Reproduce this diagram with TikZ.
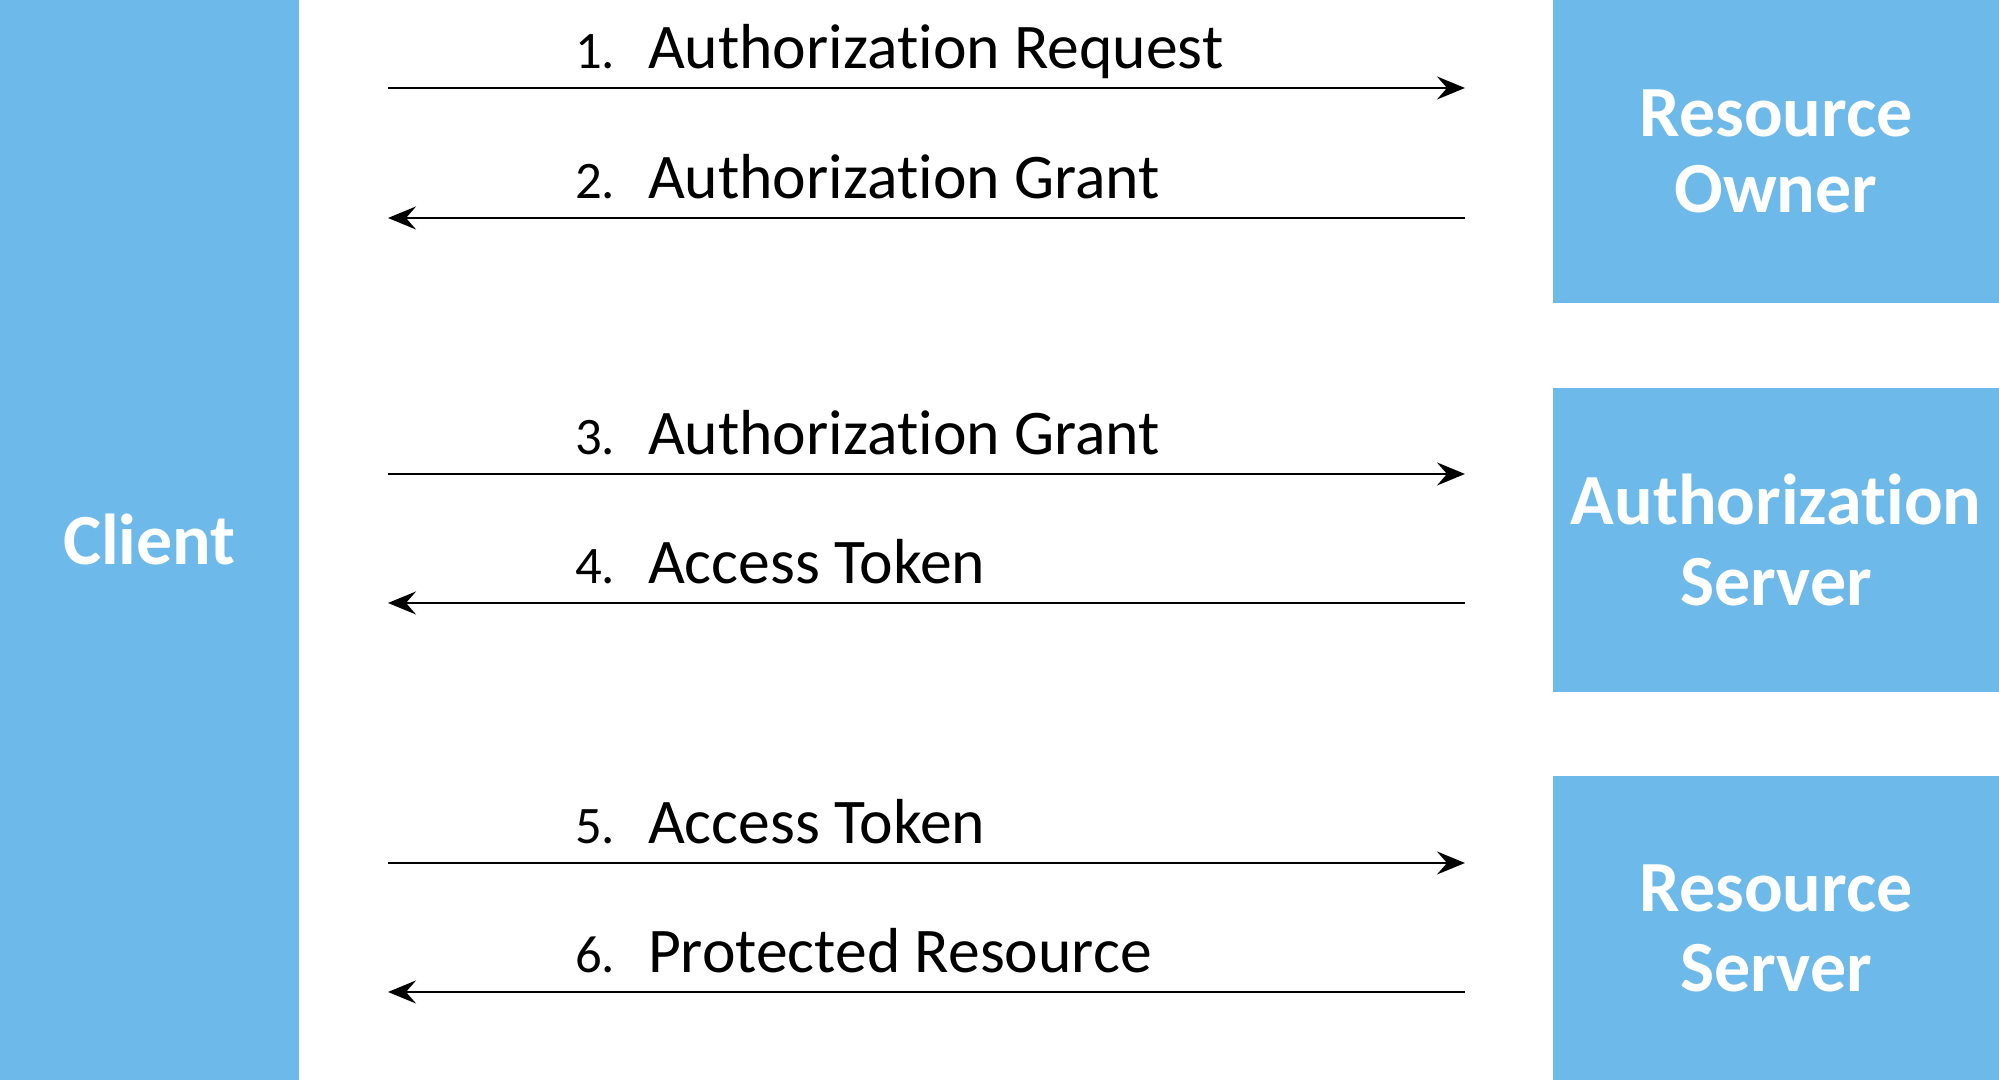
\documentclass[tikz,border=0pt]{standalone}
\usepackage{fontspec}
\setmainfont{Carlito}[Ligatures=NoCommon]
\usetikzlibrary{arrows.meta}
\definecolor{boxblue}{RGB}{109,185,234}
\newcommand{\stepno}[1]{\makebox[7.3mm][l]{\fontsize{15pt}{17pt}\selectfont #1}}

\begin{document}
\begin{tikzpicture}[inner sep=0pt,outer sep=0pt,
actor/.style={fill=boxblue,rectangle,text=white,align=center,font=\fontsize{20.5pt}{22.8pt}\selectfont\bfseries},
msg/.style={-{Stealth[length=2.8mm,width=2.3mm,inset=1mm]},line width=0.7pt},
lbl/.style={anchor=base west,font=\fontsize{18.1pt}{21pt}\selectfont}]

\useasboundingbox (0,0) rectangle (19.99,10.8);

\draw (1.495,5.4) node[actor,minimum width=2.99cm,minimum height=10.8cm] (client) {Client};
\draw (17.76,9.285) node[actor,minimum width=4.46cm,minimum height=3.03cm] (owner) {\raisebox{-0.4mm}{Resource}\\Owner};
\draw (17.76,5.40) node[actor,minimum width=4.46cm,minimum height=3.04cm] (authsrv) {Authorization\\Server};
\draw (17.76,1.52) node[actor,minimum width=4.46cm,minimum height=3.04cm] (ressrv) {Resource\\Server};

\coordinate (c-out) at ([xshift=8.9mm]client.east);
\coordinate (s-in) at ([xshift=-8.8mm]owner.west);
\coordinate (r1) at (0,9.92);
\coordinate (r2) at (0,8.62);
\coordinate (r3) at (0,6.06);
\coordinate (r4) at (0,4.77);
\coordinate (r5) at (0,2.17);
\coordinate (r6) at (0,0.88);

\draw[msg] (c-out |- r1) -- (s-in |- r1);
\draw[msg] (s-in |- r2) -- (c-out |- r2);
\draw[msg] (c-out |- r3) -- (s-in |- r3);
\draw[msg] (s-in |- r4) -- (c-out |- r4);
\draw[msg] (c-out |- r5) -- (s-in |- r5);
\draw[msg] (s-in |- r6) -- (c-out |- r6);

\path (c-out |- r1) ++(1.87,0.19) node[lbl] (l1) {\stepno{1.}Authorization Request};
\path (c-out |- r2) ++(1.87,0.19) node[lbl] (l2) {\stepno{2.}Authorization Grant};
\path (c-out |- r3) ++(1.87,0.19) node[lbl] (l3) {\stepno{3.}Authorization Grant};
\path (c-out |- r4) ++(1.87,0.19) node[lbl] (l4) {\stepno{4.}Access Token};
\path (c-out |- r5) ++(1.87,0.19) node[lbl] (l5) {\stepno{5.}Access Token};
\path (c-out |- r6) ++(1.87,0.19) node[lbl] (l6) {\stepno{6.}Protected Resource};
\end{tikzpicture}
\end{document}
